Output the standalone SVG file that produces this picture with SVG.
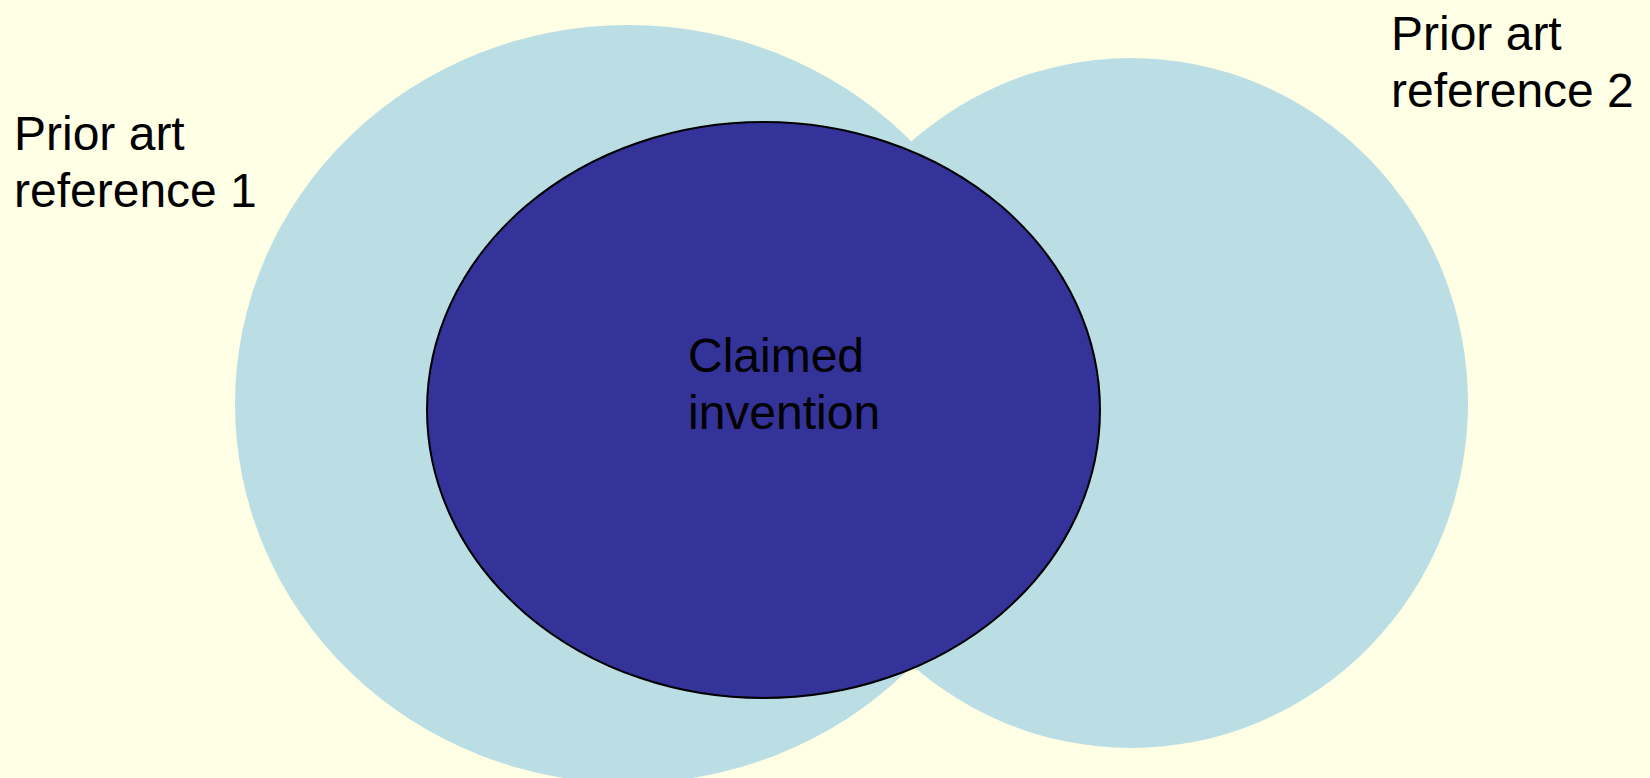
<svg xmlns="http://www.w3.org/2000/svg" width="1650" height="778" viewBox="0 0 1650 778">
<style>
.ref{fill:#BBDEE5;stroke:none}
.claim{fill:#333399;stroke:#000;stroke-width:2}
.lbl{font-family:"Liberation Sans",Arial,sans-serif;font-size:48px;fill:#000}
</style>
<rect width="1650" height="778" fill="#FFFFE6"/>
<g id="ref1">
<ellipse class="ref" cx="628" cy="404" rx="393" ry="379"/>
<text class="lbl" x="14" y="150">Prior art</text>
<text class="lbl" x="14" y="207">reference 1</text>
</g>
<g id="ref2">
<ellipse class="ref" cx="1131" cy="403" rx="337" ry="345"/>
<text class="lbl" x="1391" y="50">Prior art</text>
<text class="lbl" x="1391" y="107">reference 2</text>
</g>
<g id="claimed">
<ellipse class="claim" cx="763.5" cy="410" rx="336.5" ry="288"/>
<text class="lbl" x="688" y="372">Claimed</text>
<text class="lbl" x="688" y="429">invention</text>
</g>
<g id="connectors"/>
</svg>
